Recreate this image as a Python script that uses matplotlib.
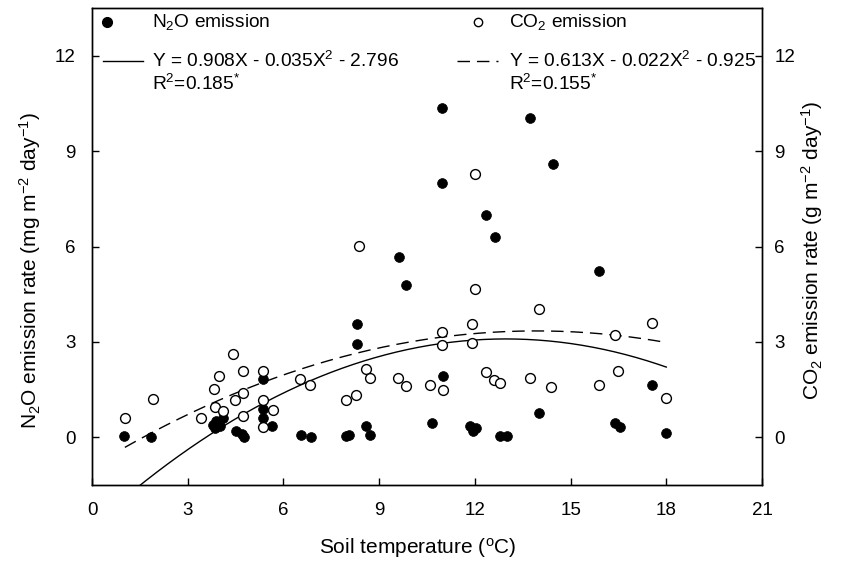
import numpy as np
import matplotlib.pyplot as plt

plt.rcParams['font.family'] = ['Liberation Sans', 'DejaVu Sans']
plt.rcParams['mathtext.fontset'] = 'custom'
plt.rcParams['mathtext.rm'] = 'Liberation Sans'
plt.rcParams['mathtext.it'] = 'Liberation Sans:italic'

# N2O emission (mg m-2 day-1) vs soil temperature
n2o_t = [1.0, 1.85, 3.8, 3.9, 4.0, 4.1, 3.85, 4.5, 4.7, 4.75, 5.36, 5.36, 5.36,
         5.65, 6.55, 6.85, 7.96, 8.05, 8.3, 8.3, 8.6, 8.7, 9.62, 9.84, 10.65,
         10.97, 10.97, 11.0, 11.85, 11.95, 12.05, 12.35, 12.63, 12.8, 13.0,
         13.73, 14.0, 14.45, 15.9, 16.4, 16.55, 17.55, 18.0]
n2o_v = [0.03, 0.0, 0.4, 0.5, 0.35, 0.6, 0.3, 0.19, 0.1, 0.0, 1.82, 0.88, 0.6,
         0.35, 0.06, 0.0, 0.03, 0.06, 3.57, 2.92, 0.34, 0.06, 5.67, 4.8, 0.44,
         10.34, 7.99, 1.94, 0.35, 0.2, 0.3, 6.99, 6.3, 0.03, 0.03,
         10.03, 0.75, 8.59, 5.24, 0.44, 0.31, 1.66, 0.13]

# CO2 emission (g m-2 day-1) vs soil temperature
co2_t = [1.03, 1.9, 3.42, 3.82, 3.86, 3.98, 4.1, 4.43, 4.48, 4.73, 4.73, 4.73,
         5.36, 5.36, 5.36, 5.67, 6.52, 6.83, 7.96, 8.28, 8.37, 8.6, 8.7, 9.6,
         9.85, 10.6, 10.97, 10.97, 11.0, 11.9, 11.9, 12.0, 12.0, 12.35, 12.6,
         12.8, 13.73, 14.0, 14.4, 15.9, 16.4, 16.5, 17.55, 18.0]
co2_v = [0.6, 1.22, 0.6, 1.53, 0.94, 1.94, 0.82, 2.63, 1.16, 2.07, 1.38, 0.66,
         2.07, 1.16, 0.31, 0.85, 1.82, 1.66, 1.16, 1.32, 6.02, 2.16, 1.85, 1.88,
         1.6, 1.66, 3.3, 2.9, 1.5, 3.56, 2.95, 8.28, 4.67, 2.04, 1.79,
         1.72, 1.85, 4.05, 1.57, 1.63, 3.23, 2.1, 3.6, 1.25]

# quadratic fits (coefficients as given on the chart)
n2o_fit = (-0.035, 0.908, -2.796)
co2_fit = (-0.022, 0.613, -0.925)

fig = plt.figure(figsize=(8.41, 5.68), dpi=100)
ax = fig.add_axes([92/841, 83/568, 670/841, 477/568])
ax2 = ax.twinx()

ax.scatter(n2o_t, n2o_v, s=50, c='black', edgecolors='black', linewidths=0.5, zorder=3)
ax2.scatter(co2_t, co2_v, s=50, facecolors='white', edgecolors='black', linewidths=1, zorder=3)

xx = np.linspace(min(n2o_t), max(n2o_t), 200)
ax.plot(xx, np.polyval(n2o_fit, xx), color='black', lw=1)
xx2 = np.linspace(min(co2_t), max(co2_t), 200)
ax2.plot(xx2, np.polyval(co2_fit, xx2), color='black', lw=1, ls=(0, (9, 5)))

for a in (ax, ax2):
    a.set_xlim(0, 21)
    a.set_ylim(-1.5, 13.5)
    a.set_yticks([0, 3, 6, 9, 12])
    a.tick_params(direction='in', length=5, labelsize=13.5, width=1)
    for s in a.spines.values():
        s.set_linewidth(1)
ax.set_xticks(range(0, 22, 3))
ax.tick_params(axis='x', pad=12)
ax.tick_params(axis='y', pad=12)
ax2.tick_params(axis='y', pad=9)

ax.set_xlabel('Soil temperature ($^{\\mathrm{o}}$C)', fontsize=15)
ax.set_ylabel('N$_2$O emission rate (mg m$^{-2}$ day$^{-1}$)', fontsize=15)
ax2.set_ylabel('CO$_2$ emission rate (g m$^{-2}$ day$^{-1}$)', fontsize=15)
ax.xaxis.set_label_coords((418 - 92) / 670, (485 - 548) / 477)
ax.yaxis.set_label_coords((30 - 92) / 670, (485 - 271) / 477)
ax2.yaxis.set_label_coords((812 - 92) / 670, (485 - 250) / 477)
ax.xaxis.label.set_va('center')
ax.yaxis.label.set_va('center')
ax2.yaxis.label.set_va('center')

# legend block drawn by hand
def fx(px):
    return (px - 92) / 670

def fy(py):
    return (485 - py) / 477

tr = ax.transAxes
fs = 13.8
ax.plot([fx(107)], [fy(22)], 'o', ms=7, color='black', transform=tr, clip_on=False)
ax.text(fx(152), fy(22), 'N$_2$O emission', transform=tr, fontsize=fs, va='center')
ax.plot([fx(103), fx(143)], [fy(61), fy(61)], color='black', lw=1, transform=tr)
ax.text(fx(152), fy(61), 'Y = 0.908X - 0.035X$^2$ - 2.796', transform=tr, fontsize=fs, va='center')
ax.text(fx(152), fy(84), 'R$^2$=0.185$^{*}$', transform=tr, fontsize=fs, va='center')

ax.plot([fx(478)], [fy(22)], 'o', ms=6, mfc='white', mec='black', mew=1, transform=tr, clip_on=False)
ax.text(fx(509), fy(22), 'CO$_2$ emission', transform=tr, fontsize=fs, va='center')
ax.plot([fx(457), fx(498)], [fy(61), fy(61)], color='black', lw=1, ls=(0, (9, 5)), transform=tr)
ax.text(fx(509), fy(61), 'Y = 0.613X - 0.022X$^2$ - 0.925', transform=tr, fontsize=fs, va='center')
ax.text(fx(509), fy(84), 'R$^2$=0.155$^{*}$', transform=tr, fontsize=fs, va='center')

fig.savefig('out.png', dpi=100)
